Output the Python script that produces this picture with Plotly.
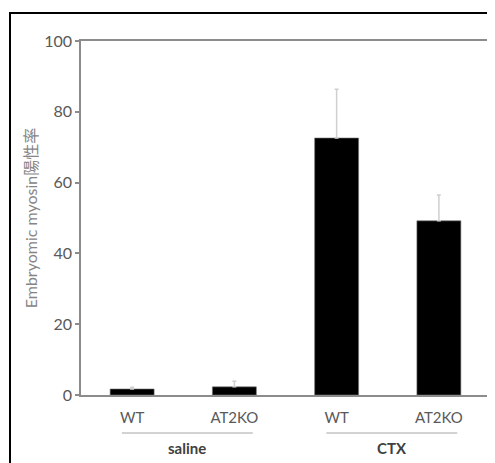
import plotly.graph_objects as go

categories = ["WT", "AT2KO", "WT", "AT2KO"]
groups = ["saline", "CTX"]
values = [1.7, 2.3, 72.6, 49.2]
errors = [0.5, 1.6, 13.8, 7.3]
y_ticks = [0, 20, 40, 60, 80, 100]
y_title = "Embryomic myosin陽性率"

# page body has an 8px margin; work in window pixels and shift
OFF = 8
W, H = 495 - OFF, 463 - OFF
ML, MT = 81 - OFF, 41 - OFF
MR = W - (490 - OFF)
MB = H - (395 - OFF)
PW, PH = W - ML - MR, H - MT - MB

def px_to_paper_x(px):
    return (px - OFF - ML) / PW

def px_to_paper_y(py):
    return (H - MB - (py - OFF)) / PH

xs = list(range(len(categories)))

fig = go.Figure()
fig.add_trace(go.Bar(
    x=xs, y=values,
    width=0.43,
    marker=dict(color="black", line=dict(color="#777777", width=0.6)),
    error_y=dict(type="data", array=errors, arrayminus=[0]*len(errors), symmetric=False,
                 color="#cfcfcf", thickness=1.5, width=2),
    showlegend=False,
))

font_main = "Lato, 'Noto Sans CJK JP', sans-serif"

fig.update_layout(
    width=W, height=H,
    margin=dict(l=ML, r=MR, t=MT, b=MB, autoexpand=False),
    paper_bgcolor="white", plot_bgcolor="white",
    font=dict(family=font_main, color="#595959"),
    xaxis=dict(
        range=[-0.5, 3.5],
        tickmode="array", tickvals=xs, ticktext=categories,
        tickfont=dict(size=15, color="#595959"),
        ticklabelstandoff=8,
        showline=True, linecolor="#8c8c8c", linewidth=1.5, mirror=True,
        ticks="", showgrid=False, zeroline=False,
    ),
    yaxis=dict(
        range=[0, 100],
        tickmode="array", tickvals=y_ticks,
        tickfont=dict(size=16, color="#595959"),
        showline=True, linecolor="#8c8c8c", linewidth=1.5, mirror=True,
        ticks="outside", ticklen=4, tickcolor="#8c8c8c", tickwidth=1.5,
        showgrid=False, zeroline=False,
        title=dict(text=y_title, font=dict(size=16, color="#858585"), standoff=3),
    ),
)

# outer frame (extends beyond the right/bottom edges as in the reference)
fig.add_shape(type="rect", xref="paper", yref="paper",
              x0=px_to_paper_x(10), x1=px_to_paper_x(520),
              y0=px_to_paper_y(490), y1=px_to_paper_y(13),
              line=dict(color="black", width=2), layer="above")

# group underlines and labels
for gi, g in enumerate(groups):
    center = gi * 2 + 0.5 + 0.04
    fig.add_shape(type="line", xref="x", yref="paper",
                  x0=center - 0.64, x1=center + 0.64,
                  y0=px_to_paper_y(433), y1=px_to_paper_y(433),
                  line=dict(color="#a6a6a6", width=1))
    fig.add_annotation(x=center, y=px_to_paper_y(448), xref="x", yref="paper",
                       text="<b>%s</b>" % g, showarrow=False,
                       font=dict(size=15, color="#404040"), yanchor="middle")

fig.write_html("out.html")
